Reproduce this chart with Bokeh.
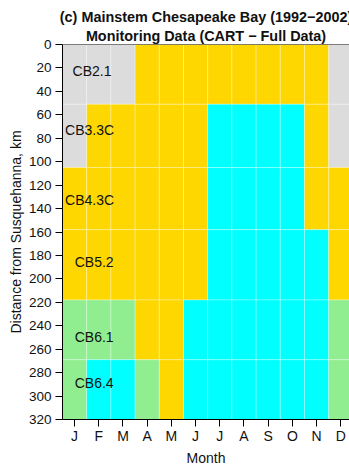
from bokeh.plotting import figure
from bokeh.models import Range1d, FixedTicker, Title, ColumnDataSource, Span
from bokeh.core.properties import value
from bokeh.embed import file_html
from bokeh.resources import INLINE

# ---- data ----
month_labels = ["J", "F", "M", "A", "M", "J", "J", "A", "S", "O", "N", "D"]
segments = ["CB2.1", "CB3.3C", "CB4.3C", "CB5.2", "CB6.1", "CB6.4"]
seg_start_km = [0, 51, 105, 158, 218, 269]
seg_end_km = [51, 105, 158, 218, 269, 320]
# class per month for each segment (0 grey, 1 gold, 2 cyan, 3 green)
cls_CB2_1 = [0, 0, 0, 1, 1, 1, 1, 1, 1, 1, 1, 0]
cls_CB3_3C = [0, 1, 1, 1, 1, 1, 2, 2, 2, 2, 1, 0]
cls_CB4_3C = [1, 1, 1, 1, 1, 1, 2, 2, 2, 2, 1, 1]
cls_CB5_2 = [1, 1, 1, 1, 1, 1, 2, 2, 2, 2, 2, 1]
cls_CB6_1 = [3, 3, 3, 1, 1, 2, 2, 2, 2, 2, 2, 3]
cls_CB6_4 = [3, 2, 2, 3, 1, 2, 2, 2, 2, 2, 2, 3]
classes = [cls_CB2_1, cls_CB3_3C, cls_CB4_3C, cls_CB5_2, cls_CB6_1, cls_CB6_4]
palette = ["#DCDCDC", "#FFD700", "#00FFFF", "#90EE90"]
label_month_pos = [1.72, 1.62, 1.62, 1.81, 1.81, 1.81]
label_km_pos = [23, 73, 133, 186, 250, 289]
y_ticks = list(range(0, 321, 20))
title_line1 = "(c) Mainstem Chesapeake Bay (1992\u22122002)"
title_line2 = "Monitoring Data (CART \u2212 Full Data)"

FONT = "Liberation Sans"

# ---- build cell table ----
left, right, top, bottom, color = [], [], [], [], []
for si, row in enumerate(classes):
    for mi, c in enumerate(row):
        m = mi + 1
        left.append(m - 0.5)
        right.append(m + 0.5)
        top.append(seg_start_km[si])
        bottom.append(seg_end_km[si])
        color.append(palette[c])
cells = ColumnDataSource(dict(left=left, right=right, top=top, bottom=bottom, color=color))
labels = ColumnDataSource(dict(x=label_month_pos, y=label_km_pos, text=segments))

p = figure(width=349, height=469, x_range=Range1d(0.5, 12.36), y_range=Range1d(320, 0),
           output_backend="svg", toolbar_location=None, title=None,
           min_border_left=62, min_border_right=0, min_border_top=44, min_border_bottom=50)

p.quad(left="left", right="right", top="top", bottom="bottom", source=cells,
       fill_color="color", line_color="white", line_alpha=0.3, line_width=1)
p.text(x="x", y="y", text="text", source=labels, text_font=value(FONT),
       text_font_size=value("14px"), text_align="center", text_baseline="middle",
       text_color="#111111")

p.grid.visible = False
p.outline_line_color = None
p.add_layout(Span(location=0, dimension="width", line_color="black", line_width=1))

p.xaxis.ticker = FixedTicker(ticks=list(range(1, 13)))
p.xaxis.major_label_overrides = {i + 1: m for i, m in enumerate(month_labels)}
p.yaxis.ticker = FixedTicker(ticks=y_ticks)
for ax in (p.xaxis, p.yaxis):
    ax.major_tick_out = 7
    ax.major_tick_in = 0
    ax.minor_tick_out = 0
    ax.minor_tick_in = 0
    ax.axis_line_color = "black"
    ax.major_tick_line_color = "black"
    ax.major_label_text_font = FONT
    ax.major_label_text_color = "#111111"
    ax.axis_label_text_font = FONT
    ax.axis_label_text_font_style = "normal"
    ax.axis_label_text_color = "#111111"
    ax.axis_label_text_font_size = "14px"
p.xaxis.major_label_text_font_size = "14px"
p.yaxis.major_label_text_font_size = "13.5px"
p.xaxis.major_label_standoff = 1
p.yaxis.major_label_standoff = 4
p.xaxis.axis_label = "Month"
p.yaxis.axis_label = "Distance from Susquehanna, km"
p.xaxis.axis_label_standoff = 3
p.yaxis.axis_label_standoff = 2

t2 = Title(text=title_line2, align="center", text_font=FONT, text_font_style="bold",
           text_font_size="14.4px", text_color="#111111", standoff=2)
t1 = Title(text=title_line1, align="center", text_font=FONT, text_font_style="bold",
           text_font_size="14.4px", text_color="#111111", standoff=0)
p.add_layout(t2, "above")
p.add_layout(t1, "above")

open("out.html", "w").write(file_html(p, INLINE))
